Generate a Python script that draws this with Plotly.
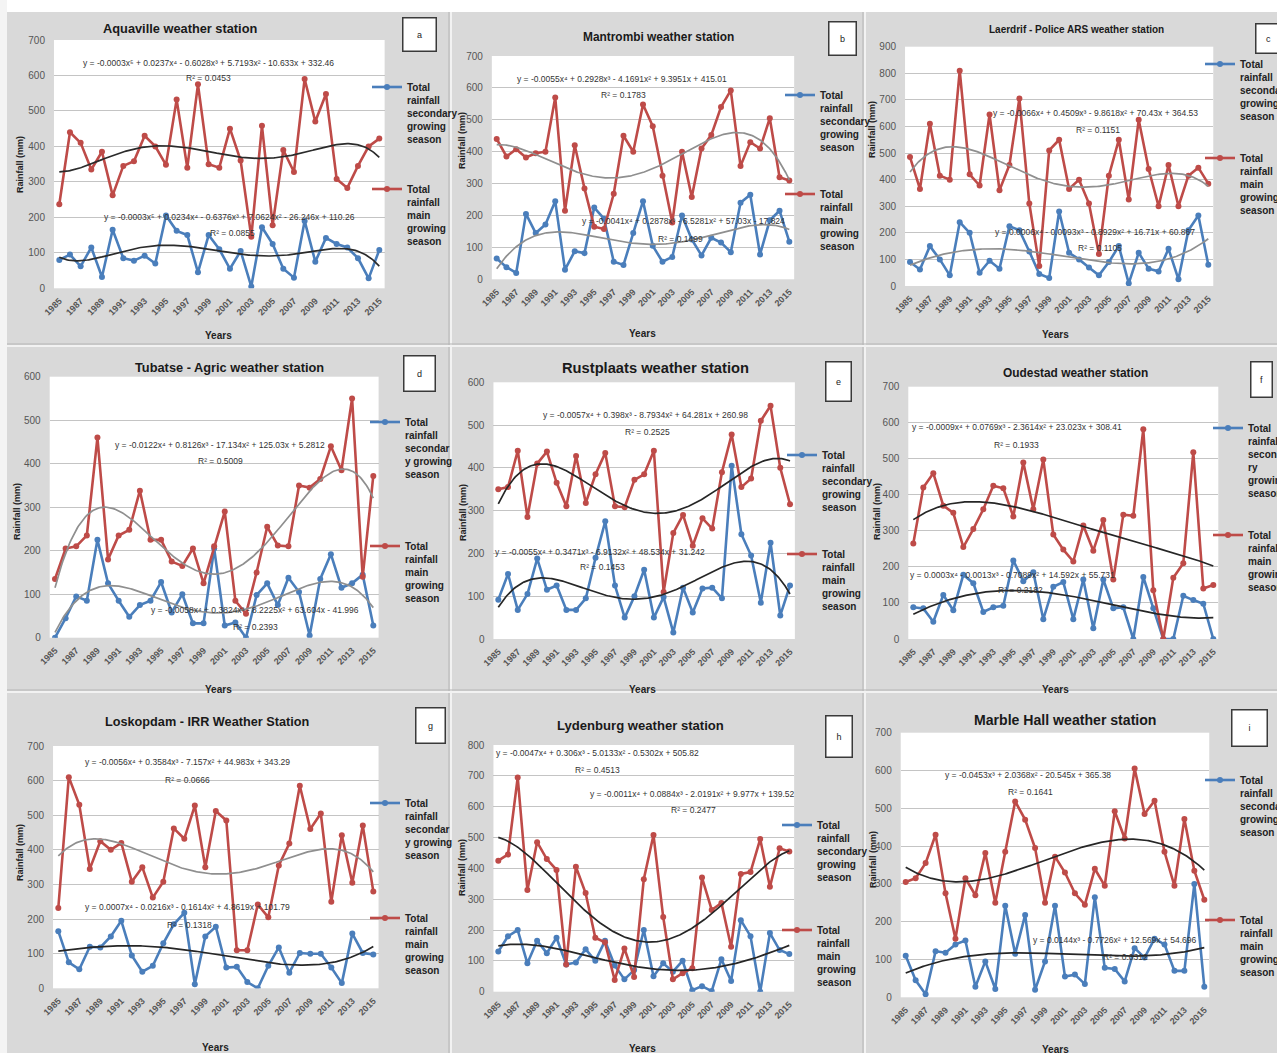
import numpy as np
import plotly.graph_objects as go

W, H = 1277, 1053
YEARS = list(range(1985, 2016))
YEAR_TICKS = YEARS[::2]

# ---- seasonal rainfall totals (mm), 1985-2015 ----
aquaville_secondary = [80, 95, 62, 115, 32, 165, 85, 78, 92, 70, 205, 162, 150, 45, 150, 110,
                       55, 105, 5, 172, 125, 55, 30, 190, 75, 142, 125, 115, 85, 28, 108]
aquaville_main = [237, 440, 410, 335, 385, 262, 345, 358, 430, 400, 348, 532, 340, 575, 350, 340,
                  450, 360, 145, 458, 178, 390, 328, 590, 470, 548, 308, 283, 345, 400, 422]

mantrombi_secondary = [65, 38, 20, 205, 145, 172, 245, 30, 88, 82, 225, 190, 55, 45, 145, 245,
                       105, 55, 70, 200, 125, 75, 130, 115, 85, 240, 265, 78, 185, 215, 118]
mantrombi_main = [440, 385, 408, 382, 395, 400, 570, 215, 420, 285, 165, 158, 268, 450, 400, 548,
                  480, 325, 178, 400, 258, 410, 452, 540, 592, 355, 430, 410, 505, 320, 310]

laerdrif_secondary = [90, 62, 150, 100, 40, 240, 200, 50, 95, 65, 225, 210, 130, 45, 30, 280,
                      125, 100, 70, 40, 90, 150, 10, 125, 65, 55, 140, 25, 210, 265, 80]
laerdrif_main = [485, 365, 610, 415, 400, 810, 420, 378, 645, 360, 455, 705, 310, 75, 510, 550,
                 365, 400, 310, 120, 415, 550, 325, 625, 440, 300, 455, 300, 415, 445, 385]

tubatse_secondary = [0, 45, 95, 85, 225, 125, 85, 48, 75, 85, 128, 58, 100, 33, 33, 205,
                     28, 35, 0, 98, 125, 75, 138, 105, 5, 135, 192, 115, 125, 145, 28]
tubatse_main = [135, 205, 210, 235, 460, 180, 235, 248, 338, 225, 225, 175, 165, 205, 125, 210,
                290, 85, 55, 150, 255, 212, 210, 350, 345, 365, 440, 385, 550, 140, 372]

rustplaats_secondary = [92, 152, 68, 105, 188, 115, 125, 68, 68, 95, 190, 275, 125, 50, 100, 162,
                        50, 98, 15, 120, 62, 118, 120, 95, 405, 245, 195, 85, 225, 55, 125]
rustplaats_main = [350, 355, 440, 285, 410, 438, 365, 310, 428, 318, 385, 435, 310, 308, 372, 385,
                   440, 110, 248, 290, 218, 282, 258, 390, 478, 355, 375, 510, 545, 400, 315]

oudestad_secondary = [88, 85, 48, 122, 80, 178, 155, 75, 88, 92, 218, 160, 185, 55, 145, 158,
                      55, 165, 30, 165, 85, 88, 0, 172, 85, 0, 0, 120, 108, 98, 0]
oudestad_main = [265, 420, 460, 370, 350, 255, 305, 360, 425, 418, 340, 490, 360, 498, 290, 248,
                 215, 315, 245, 330, 165, 345, 342, 582, 135, 0, 170, 210, 518, 140, 150]

loskopdam_secondary = [165, 75, 55, 120, 118, 150, 195, 95, 48, 65, 130, 185, 218, 12, 150, 178,
                       60, 62, 18, 0, 65, 118, 45, 102, 100, 100, 60, 15, 158, 102, 98]
loskopdam_main = [232, 610, 530, 345, 425, 400, 420, 308, 350, 262, 308, 462, 432, 528, 350, 512,
                  485, 110, 110, 242, 205, 355, 418, 585, 460, 505, 250, 442, 305, 470, 280]

lydenburg_secondary = [130, 180, 200, 92, 165, 125, 175, 88, 95, 138, 100, 165, 85, 40, 70, 200,
                       50, 92, 65, 100, 5, 18, 2, 105, 35, 232, 180, 0, 190, 135, 122]
lydenburg_main = [425, 445, 695, 330, 485, 430, 395, 88, 405, 320, 175, 160, 38, 140, 48, 365,
                  508, 242, 40, 60, 76, 370, 265, 288, 146, 382, 388, 495, 340, 465, 455]

marble_hall_secondary = [110, 45, 8, 122, 118, 140, 150, 28, 95, 22, 242, 115, 218, 20, 95, 242,
                         55, 60, 35, 265, 78, 75, 42, 130, 105, 155, 140, 70, 70, 300, 28]
marble_hall_main = [305, 315, 355, 430, 275, 155, 315, 270, 382, 250, 385, 518, 470, 395, 250, 372,
                    330, 275, 245, 340, 295, 492, 420, 605, 485, 520, 385, 295, 472, 335, 258]

SEC_NAME = "Total<br>rainfall<br>secondary<br>growing<br>season"
SEC_NAME_Y = "Total<br>rainfall<br>secondar<br>y growing<br>season"
SEC_NAME_RY = "Total<br>rainfall<br>seconda<br>ry<br>growing<br>season"
MAIN_NAME = "Total<br>rainfall<br>main<br>growing<br>season"

# ---- panel set-up (pixel positions on the 1277 x 1053 page) ----
PANELS = [
    dict(letter="a", title="Aquaville weather station", sec=aquaville_secondary, main=aquaville_main,
         deg=5, ymax=700, x85=59.3, x15=379.3, ytop=40.0, ybot=288.3,
         title_xy=(180, 28, 12.8), box=(419, 35, 30, 30),
         ylab=(20, 165), xlab=(218, 335), sec_name=SEC_NAME,
         leg_sec=(367, 74), leg_main=(367, 176), trend=("#2b2b2b", "#2b2b2b"),
         eq_main=("y = -0.0003x\u2075 + 0.0237x\u2074 - 0.6028x\u00b3 + 5.7193x\u00b2 - 10.633x + 332.46", 208, 63),
         r2_main=("R\u00b2 = 0.0453", 208, 78),
         eq_sec=("y = -0.0003x\u2075 + 0.0234x\u2074 - 0.6376x\u00b3 + 7.0624x\u00b2 - 26.246x + 110.26", 230, 217),
         r2_sec=("R\u00b2 = 0.0855", 233, 233)),
    dict(letter="b", title="Mantrombi weather station", sec=mantrombi_secondary, main=mantrombi_main,
         deg=4, ymax=700, x85=496.7, x15=789.3, ytop=56.0, ybot=279.3,
         title_xy=(658, 37, 11.9), box=(843, 38, 24, 30),
         ylab=(462, 140), xlab=(642, 333), sec_name=SEC_NAME,
         leg_sec=(780, 82), leg_main=(780, 181), trend=("#8f8f8f", "#8f8f8f"),
         eq_main=("y = -0.0055x\u2074 + 0.2928x\u00b3 - 4.1691x\u00b2 + 9.3951x + 415.01", 622, 79),
         r2_main=("R\u00b2 = 0.1783", 623, 95),
         eq_sec=("y = -0.0041x\u2074 + 0.2878x\u00b3 - 6.5281x\u00b2 + 57.03x - 17.824", 683, 221),
         r2_sec=("R\u00b2 = 0.1499", 680, 239)),
    dict(letter="c", title="Laerdrif - Police ARS weather station", sec=laerdrif_secondary, main=laerdrif_main,
         deg=4, ymax=900, x85=910.0, x15=1208.3, ytop=46.7, ybot=286.0,
         title_xy=(1076, 30, 10), box=(1268, 39, 22, 26),
         ylab=(872, 130), xlab=(1055, 334), sec_name=SEC_NAME,
         leg_sec=(1200, 51), leg_main=(1200, 145), trend=("#8f8f8f", "#8f8f8f"),
         eq_main=("y = -0.0066x\u2074 + 0.4509x\u00b3 - 9.8618x\u00b2 + 70.43x + 364.53", 1095, 113),
         r2_main=("R\u00b2 = 0.1151", 1098, 130),
         eq_sec=("y = 0.0006x\u2074 - 0.0093x\u00b3 - 0.8929x\u00b2 + 16.71x + 60.867", 1095, 232),
         r2_sec=("R\u00b2 = 0.1105", 1100, 248)),
    dict(letter="d", title="Tubatse - Agric weather station", sec=tubatse_secondary, main=tubatse_main,
         deg=4, ymax=600, x85=55.0, x15=373.3, ytop=376.7, ybot=637.7,
         title_xy=(229, 367, 12.8), box=(419, 374, 28, 32),
         ylab=(17, 512), xlab=(218, 689), sec_name=SEC_NAME_Y,
         leg_sec=(365, 409), leg_main=(365, 533), trend=("#8f8f8f", "#8f8f8f"),
         eq_main=("y = -0.0122x\u2074 + 0.8126x\u00b3 - 17.134x\u00b2 + 125.03x + 5.2812", 220, 445),
         r2_main=("R\u00b2 = 0.5009", 220, 461),
         eq_sec=("y = -0.0058x\u2074 + 0.3824x\u00b3 - 8.2225x\u00b2 + 63.604x - 41.996", 255, 610),
         r2_sec=("R\u00b2 = 0.2393", 255, 627)),
    dict(letter="e", title="Rustplaats weather station", sec=rustplaats_secondary, main=rustplaats_main,
         deg=4, ymax=600, x85=498.3, x15=790.0, ytop=382.3, ybot=639.0,
         title_xy=(655, 368, 14.7), box=(839, 381, 22, 36),
         ylab=(463, 512), xlab=(642, 689), sec_name=SEC_NAME,
         leg_sec=(782, 442), leg_main=(782, 541), trend=("#262626", "#262626"),
         eq_main=("y = -0.0057x\u2074 + 0.398x\u00b3 - 8.7934x\u00b2 + 64.281x + 260.98", 645, 415),
         r2_main=("R\u00b2 = 0.2525", 647, 432),
         eq_sec=("y = -0.0055x\u2074 + 0.3471x\u00b3 - 6.9132x\u00b2 + 48.534x + 31.242", 600, 552),
         r2_sec=("R\u00b2 = 0.1453", 602, 567)),
    dict(letter="f", title="Oudestad weather station", sec=oudestad_secondary, main=oudestad_main,
         deg=4, ymax=700, x85=913.3, x15=1213.3, ytop=386.7, ybot=639.0,
         title_xy=(1075, 373, 11.9), box=(1261, 379, 18, 32),
         ylab=(877, 512), xlab=(1055, 689), sec_name=SEC_NAME_RY,
         leg_sec=(1208, 415), leg_main=(1208, 522), trend=("#262626", "#262626"),
         eq_main=("y = -0.0009x\u2074 + 0.0769x\u00b3 - 2.3614x\u00b2 + 23.023x + 308.41", 1017, 427),
         r2_main=("R\u00b2 = 0.1933", 1017, 445),
         eq_sec=("y = 0.0003x\u2074 - 0.0013x\u00b3 - 0.7089x\u00b2 + 14.592x + 55.731", 1012, 575),
         r2_sec=("R\u00b2 = 0.2182", 1020, 590)),
    dict(letter="g", title="Loskopdam - IRR Weather Station", sec=loskopdam_secondary, main=loskopdam_main,
         deg=4, ymax=700, x85=58.3, x15=373.3, ytop=746.0, ybot=988.3,
         title_xy=(207, 722, 12.7), box=(430, 725, 26, 32),
         ylab=(20, 853), xlab=(215, 1047), sec_name=SEC_NAME_Y,
         leg_sec=(365, 790), leg_main=(365, 905), trend=("#262626", "#8f8f8f"),
         eq_main=("y = -0.0056x\u2074 + 0.3584x\u00b3 - 7.157x\u00b2 + 44.983x + 343.29", 188, 762),
         r2_main=("R\u00b2 = 0.0666", 188, 780),
         eq_sec=("y = 0.0007x\u2074 - 0.0216x\u00b3 - 0.1614x\u00b2 + 4.8619x + 101.79", 188, 907),
         r2_sec=("R\u00b2 = 0.1318", 190, 925)),
    dict(letter="h", title="Lydenburg weather station", sec=lydenburg_secondary, main=lydenburg_main,
         deg=4, ymax=800, x85=498.3, x15=789.3, ytop=745.0, ybot=991.7,
         title_xy=(640, 725, 13.1), box=(839, 736, 23, 38),
         ylab=(462, 867), xlab=(642, 1048), sec_name=SEC_NAME,
         leg_sec=(777, 812), leg_main=(777, 917), trend=("#262626", "#262626"),
         eq_main=("y = -0.0047x\u2074 + 0.306x\u00b3 - 5.0133x\u00b2 - 0.5302x + 505.82", 597, 753),
         r2_main=("R\u00b2 = 0.4513", 597, 770),
         eq_sec=("y = -0.0011x\u2074 + 0.0884x\u00b3 - 2.0191x\u00b2 + 9.977x + 139.52", 692, 794),
         r2_sec=("R\u00b2 = 0.2477", 693, 810)),
    dict(letter="i", title="Marble Hall weather station", sec=marble_hall_secondary, main=marble_hall_main,
         deg=3, ymax=700, x85=905.7, x15=1204.3, ytop=732.7, ybot=997.3,
         title_xy=(1065, 720, 14.1), box=(1249, 728, 32, 33),
         ylab=(873, 860), xlab=(1055, 1049), sec_name=SEC_NAME,
         leg_sec=(1200, 767), leg_main=(1200, 907), trend=("#262626", "#262626"),
         eq_main=("y = -0.0453x\u00b3 + 2.0368x\u00b2 - 20.545x + 365.38", 1028, 775),
         r2_main=("R\u00b2 = 0.1641", 1030, 792),
         eq_sec=("y = 0.0144x\u00b3 - 0.7726x\u00b2 + 12.569x + 54.696", 1115, 940),
         r2_sec=("R\u00b2 = 0.0312", 1125, 957)),
]

FONT = "Liberation Sans, Arial, sans-serif"
BLUE = "#4a7ebb"
RED = "#be4b48"


def px(x):
    return x / W


def py(y):
    return 1 - y / H


def label(x, y, text, size, color="#222222", bold=False, **extra):
    return dict(x=px(x), y=py(y), xref="paper", yref="paper", text=text, showarrow=False,
                xanchor="center", yanchor="middle",
                font=dict(family=FONT, size=size, color=color, weight="bold" if bold else "normal"),
                **extra)


fig = go.Figure()
annotations = []
shapes = []
layout = {}
legend_no = 0

for n, p in enumerate(PANELS, start=1):
    sfx = "" if n == 1 else str(n)
    xa, ya = "x" + sfx, "y" + sfx
    step = (p["x15"] - p["x85"]) / 30.0
    layout["xaxis" + sfx] = dict(
        domain=[px(p["x85"] - step / 2), px(p["x15"] + step / 2)],
        range=[1984.5, 2015.5], anchor=ya,
        tickvals=YEAR_TICKS, ticktext=[str(v) for v in YEAR_TICKS], tickangle=-45,
        tickfont=dict(family=FONT, size=9, color="#555555", weight="bold"),
        ticks="outside", ticklen=3, tickcolor="rgba(0,0,0,0)",
        showgrid=False, zeroline=False, showline=False,
    )
    layout["yaxis" + sfx] = dict(
        domain=[py(p["ybot"]), py(p["ytop"])], range=[0, p["ymax"]], anchor=xa,
        dtick=100, tickfont=dict(family=FONT, size=10, color="#555555"),
        ticks="outside", ticklen=6, tickcolor="rgba(0,0,0,0)",
        showgrid=True, gridcolor="#c4c4c4", gridwidth=1, zeroline=False, showline=False,
    )

    # data series, each with its own legend block
    for key, name, color, leg_xy in (("sec", p["sec_name"], BLUE, p["leg_sec"]),
                                     ("main", MAIN_NAME, RED, p["leg_main"])):
        legend_no += 1
        lid = "legend" if legend_no == 1 else f"legend{legend_no}"
        layout[lid] = dict(
            x=px(leg_xy[0]), y=py(leg_xy[1]), xanchor="left", yanchor="top",
            bgcolor="rgba(0,0,0,0)", borderwidth=0, valign="top", itemwidth=30,
            font=dict(family=FONT, size=10, color="#222222", weight="bold"),
        )
        fig.add_trace(go.Scatter(
            x=YEARS, y=p[key], name=name, mode="lines+markers", xaxis=xa, yaxis=ya,
            line=dict(color=color, width=2.6), marker=dict(color=color, size=6),
            legend=lid, showlegend=True,
        ))

    # polynomial trend lines fitted to each series (x = 1..31 as in the spreadsheet)
    t = np.arange(1, 32)
    tt = np.linspace(1, 31, 241)
    for key, color in (("sec", p["trend"][0]), ("main", p["trend"][1])):
        coef = np.polyfit(t, np.asarray(p[key], dtype=float), p["deg"])
        fig.add_trace(go.Scatter(
            x=tt + 1984, y=np.polyval(coef, tt), mode="lines", xaxis=xa, yaxis=ya,
            line=dict(color=color, width=1.7), showlegend=False, hoverinfo="skip",
        ))

    # titles and labels
    tx, ty, ts = p["title_xy"]
    annotations.append(label(tx, ty, p["title"], ts, "#1a1a1a", bold=True))
    annotations.append(label(p["ylab"][0], p["ylab"][1], "Rainfall (mm)", 9, bold=True, textangle=-90))
    annotations.append(label(p["xlab"][0], p["xlab"][1], "Years", 10, bold=True))
    for k in ("eq_main", "r2_main", "eq_sec", "r2_sec"):
        txt, ex, ey = p[k]
        annotations.append(label(ex, ey, txt, 8.5, "#333333"))
    bx, by, bw, bh = p["box"]
    annotations.append(label(bx, by, p["letter"], 9, width=bw, height=bh, bgcolor="white",
                             bordercolor="#3a3a3a", borderwidth=1.5))

# page furniture: white top and left margins, panel separators
shapes.append(dict(type="rect", xref="paper", yref="paper", x0=0, x1=1, y0=py(12), y1=1,
                   fillcolor="white", line=dict(width=0), layer="below"))
shapes.append(dict(type="rect", xref="paper", yref="paper", x0=0, x1=px(7), y0=0, y1=1,
                   fillcolor="#f4f4f4", line=dict(width=0), layer="below"))
for xv in (450, 864):
    shapes.append(dict(type="line", xref="paper", yref="paper", x0=px(xv - 1), x1=px(xv - 1),
                       y0=0, y1=py(12), line=dict(color="#b5b5b5", width=1), layer="below"))
    shapes.append(dict(type="line", xref="paper", yref="paper", x0=px(xv + 1), x1=px(xv + 1),
                       y0=0, y1=py(12), line=dict(color="#f2f2f2", width=2), layer="below"))
for yv in (345, 691):
    shapes.append(dict(type="line", xref="paper", yref="paper", x0=px(7), x1=1,
                       y0=py(yv - 1), y1=py(yv - 1), line=dict(color="#b5b5b5", width=1), layer="below"))
    shapes.append(dict(type="line", xref="paper", yref="paper", x0=px(7), x1=1,
                       y0=py(yv + 1), y1=py(yv + 1), line=dict(color="#f2f2f2", width=2), layer="below"))

fig.update_layout(
    width=W, height=H, margin=dict(l=0, r=0, t=0, b=0, autoexpand=False),
    paper_bgcolor="#d9d9d9", plot_bgcolor="white",
    font=dict(family=FONT), annotations=annotations, shapes=shapes, **layout,
)

fig.write_html("out.html")
